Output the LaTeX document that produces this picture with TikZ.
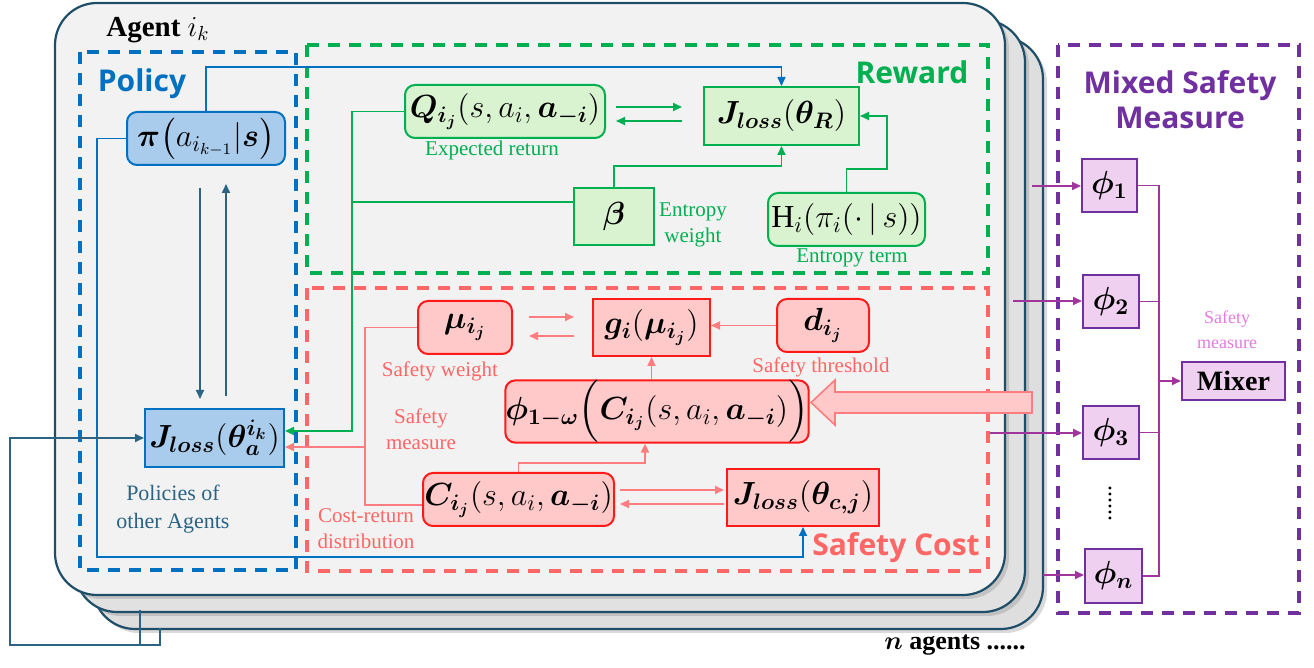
\RequirePackage{fix-cm}
\documentclass[tikz,border=0pt]{standalone}
\usepackage{amsmath,bm}
\usepackage{fontspec}
\setmainfont{Liberation Serif}
\newfontfamily\hdr{Open Sans}
\usetikzlibrary{calc,shadows,arrows.meta}
\definecolor{cblue}{HTML}{0070C0}
\definecolor{cbluef}{HTML}{A9CCEC}
\definecolor{cteal}{HTML}{1F4E68}
\definecolor{ctealb}{HTML}{2A6384}
\definecolor{cgreen}{HTML}{00B050}
\definecolor{cgreenf}{HTML}{D9F2D0}
\definecolor{credd}{HTML}{FF6666}
\definecolor{credl}{HTML}{FF7C80}
\definecolor{credb}{HTML}{FF1A1A}
\definecolor{credf}{HTML}{FFC9C9}
\definecolor{cpurple}{HTML}{7030A0}
\definecolor{cmag}{HTML}{A0359B}
\definecolor{cpurf}{HTML}{F0D0F0}
\definecolor{cpink}{HTML}{E27CE0}
\definecolor{cfront}{HTML}{F2F2F2}
\definecolor{cback}{HTML}{DEDEDE}
\begin{document}
\begin{tikzpicture}[x=0.5pt,y=-0.5pt,
  mfont/.style={font=\fontsize{16}{18}\selectfont},
  sfont/.style={font=\fontsize{10.5}{13}\selectfont, align=center},
  hfont/.style={font=\hdr\bfseries\fontsize{15}{17}\selectfont},
  pbox/.style={draw=cblue, fill=cbluef, line width=1pt, inner sep=0pt, mfont},
  gbox/.style={draw=cgreen, fill=cgreenf, line width=1pt, inner sep=0pt, mfont},
  rbox/.style={draw=credb, fill=credf, line width=1pt, inner sep=0pt, mfont},
  vbox/.style={draw=cpurple, fill=cpurf, line width=1pt, inner sep=0pt, mfont},
  rnd/.style={rounded corners=5pt},
  dashbox/.style={line width=1.6pt, dash pattern=on 6pt off 4.5pt},
  card/.style={draw=cteal, line width=1.1pt, rounded corners=21pt,
     drop shadow={shadow xshift=2pt, shadow yshift=-2pt, opacity=0.3}},
  tip/.style={-{Triangle[length=4.5pt,width=4pt]}},
  bl/.style={draw=cblue, line width=0.8pt},
  gl/.style={draw=cgreen, line width=0.9pt},
  rl/.style={draw=credl, line width=0.9pt},
  tl/.style={draw=ctealb, line width=0.9pt},
  ml/.style={draw=cmag, line width=0.9pt},
]
\useasboundingbox (0,0) rectangle (1314,668);
% stacked cards
\path[card, fill=cback] (93,37) rectangle (1043,629);
\path[card, fill=cback!92!white] (75,20) rectangle (1025,612);
\path[card, fill=cfront] (55,3) rectangle (1005,595);
% dashed frames
\draw[cblue, dashbox] (80,52) rectangle (296,570);
\draw[cgreen, dashbox] (307,45) rectangle (988,273);
\draw[credd, dashbox] (307,288) rectangle (988,571);
\draw[cpurple, dashbox] (1058,45) rectangle (1299,613);
% titles
\node[font=\bfseries\fontsize{14.5}{16}\selectfont] (agent) at (158,30) {Agent $i_k$};
\node[hfont, text=cblue] (tpol) at (142,84) {Policy};
\node[hfont, text=cgreen] (trew) at (912,72) {Reward};
\node[hfont, text=credd] (tsaf) at (896,548) {Safety Cost};
\node[hfont, text=cpurple, align=center, font=\hdr\bfseries\fontsize{15}{17.5}\selectfont] (tmix) at (1180,100) {Mixed Safety\\Measure};
% policy nodes
\node[pbox, rnd, minimum width=79pt, minimum height=26.5pt] (pi) at (206,138.5) {$\bm{\pi}\big(a_{i_{k-1}}|\bm{s}\big)$};
\node[pbox, minimum width=69.5pt, minimum height=29pt] (Ja) at (214.5,438) {$\bm{J}_{\bm{loss}}(\bm{\theta}_{\bm{a}}^{\bm{i_k}})$};
\node[sfont, text=ctealb, font=\fontsize{11}{14}\selectfont] (tpo) at (173,509) {Policies of\\other Agents};
% reward nodes
\node[gbox, rnd, minimum width=100pt, minimum height=26.5pt] (Q) at (505,111.5) {$\bm{Q}_{\bm{i_j}}(s,a_i,\bm{a}_{\bm{-i}})$};
\node[gbox, minimum width=77.5pt, minimum height=29pt] (JR) at (781.5,116) {$\bm{J}_{\bm{loss}}(\bm{\theta}_{\bm{R}})$};
\node[gbox, minimum width=40pt, minimum height=28.5pt] (beta) at (614,216.5) {$\bm{\beta}$};
\node[gbox, rnd, minimum width=78.5pt, minimum height=26.5pt] (H) at (846.5,219.5) {$\mathrm{H}_i(\pi_i(\cdot\,|\,s))$};
\node[sfont, text=cgreen] (tex) at (492,150) {Expected return};
\node[sfont, text=cgreen] (tew) at (693,225) {Entropy\\weight};
\node[sfont, text=cgreen] (tet) at (852,258) {Entropy term};
% safety nodes
\node[rbox, rnd, minimum width=47pt, minimum height=26.5pt] (mu) at (465,327.5) {$\bm{\mu}_{\bm{i_j}}$};
\node[rbox, minimum width=58.5pt, minimum height=28.5pt] (g) at (651.5,327.5) {$\bm{g}_{\bm{i}}(\bm{\mu}_{\bm{i_j}})$};
\node[rbox, rnd, minimum width=46pt, minimum height=26.5pt] (d) at (823,325.5) {$\bm{d}_{\bm{i_j}}$};
\node[rbox, rnd, minimum width=140pt, minimum height=30.5pt] (phiw) at (657,411.5) {$\bm{\phi}_{\bm{1-\omega}}\Big(\bm{C}_{\bm{i_j}}(s,a_i,\bm{a}_{\bm{-i}})\Big)$};
\node[rbox, rnd, minimum width=95.5pt, minimum height=26.5pt] (C) at (518.5,499.5) {$\bm{C}_{\bm{i_j}}(s,a_i,\bm{a}_{\bm{-i}})$};
\node[rbox, minimum width=76pt, minimum height=28.5pt] (Jc) at (803,497.5) {$\bm{J}_{\bm{loss}}(\bm{\theta}_{\bm{c,j}})$};
\node[sfont, text=credd] (tsw) at (440,371) {Safety weight};
\node[sfont, text=credd] (tst) at (821,367) {Safety threshold};
\node[sfont, text=credd] (tsm) at (421,429) {Safety\\measure};
\node[sfont, text=credd] (tcr) at (366,529) {Cost-return\\distribution};
% mixer nodes
\node[vbox, minimum width=27.5pt, minimum height=26.5pt] (phi1) at (1109.5,185.5) {$\bm{\phi}_{\bm{1}}$};
\node[vbox, minimum width=28pt, minimum height=26.5pt] (phi2) at (1111,301.5) {$\bm{\phi}_{\bm{2}}$};
\node[vbox, minimum width=28pt, minimum height=26.5pt] (phi3) at (1111,432.5) {$\bm{\phi}_{\bm{3}}$};
\node[vbox, minimum width=28.5pt, minimum height=27pt] (phin) at (1113.5,576) {$\bm{\phi}_{\bm{n}}$};
\node[vbox, minimum width=51.5pt, minimum height=19pt, font=\bfseries\fontsize{14}{16}\selectfont] (mixer) at (1233.5,381) {Mixer};
\node[rotate=90, font=\fontsize{12}{12}\selectfont] (vdots) at (1110,504) {......};
\node[sfont, text=cpink, font=\fontsize{9}{12.5}\selectfont] (tsmm) at (1227,330) {Safety\\measure};
\node[font=\bfseries\fontsize{13}{15}\selectfont] (nag) at (955,645) {$\bm{n}$ agents ......};
% ---- connectors ----
% blue
\coordinate (btop) at (500,67);
\draw[bl, tip] (pi.north) |- (btop) -| (JR.north);
\coordinate (bbot) at (97,557);
\draw[bl, tip] (pi.west) -| (bbot) -| (Jc.south);
% teal vertical arrows
\draw[tl, tip] ($(pi.south)+(-6,22)$) -- ($(Ja.north)+(-14.5,-9)$);
\draw[tl, tip] ($(Ja.north)+(11.5,-12)$) -- ($(pi.south)+(20,18)$);
% loop from other agents
\coordinate (c3b) at (160,628);
\coordinate (c2b) at (140,610);
\coordinate (lp) at (10,645);
\draw[tl, tip] (c3b) |- (lp) |- (Ja.west);
\draw[tl] (c2b) -- (c2b |- lp);
% green
\coordinate (gb) at (352,431);
\draw[gl, tip] (Q.west) -| (gb) -- (gb -| Ja.east);
\coordinate (bw) at ($(beta.west)+(0,-14.5)$);
\draw[gl] (bw) -- (bw -| gb);
\draw[gl, tip] ($(Q.east)+(10,-4.5)$) -- ($(JR.west)+(-21,-9)$);
\draw[gl, tip] ($(JR.west)+(-21,5)$) -- ($(Q.east)+(10,9.5)$);
\coordinate (gbt) at (700,166);
\draw[gl, tip] (beta.north) |- (gbt) -| (JR.south);
\coordinate (hr) at (887,169);
\draw[gl, tip] (H.north) |- (hr) |- (JR.east);
% red
\draw[rl, tip] ($(mu.east)+(16,-10.5)$) -- ($(g.west)+(-18,-10.5)$);
\draw[rl, tip] ($(g.west)+(-18,8.5)$) -- ($(mu.east)+(16,8.5)$);
\draw[rl, tip] (d.west) -- (d.west -| g.east);
\draw[rl, tip] (phiw.north -| g.south) -- (g.south);
\coordinate (ct) at (600,463);
\draw[rl, tip] (C.north) |- (ct) -| ($(phiw.south)+(-12,0)$);
\draw[rl, tip] ($(C.east)+(5,-9.5)$) -- ($(Jc.west)+(-2,-7.5)$);
\draw[rl, tip] ($(Jc.west)+(-2,6.5)$) -- ($(C.east)+(5,4.5)$);
\coordinate (rb) at (365,505);
\draw[rl] (mu.west) -| (rb) -- (rb -| C.west);
\coordinate (rj) at (365,447);
\draw[rl, tip] (rj) -- (rj -| Ja.east);
% big arrow
\draw[draw=credl, fill=credf, line width=0.8pt] (1032,392) -- (835,392) -- (835,380) -- (811,402.5) -- (835,425) -- (835,413) -- (1032,413) -- cycle;
% purple
\coordinate (in1) at (1032,186);
\coordinate (in2) at (1013,301);
\coordinate (in3) at (990,433);
\coordinate (inn) at (1043,575);
\draw[ml, tip] (in1) -- (in1 -| phi1.west);
\draw[ml, tip] (in2) -- (in2 -| phi2.west);
\draw[ml, tip] (in3) -- (in3 -| phi3.west);
\draw[ml, tip] (inn) -- (inn -| phin.west);
\coordinate (bus) at (1159,381);
\draw[ml] (phi1.east) -- (phi1.east -| bus) -- (phin.east -| bus) -- (phin.east);
\draw[ml] (phi2.east) -- (phi2.east -| bus);
\draw[ml] (phi3.east) -- (phi3.east -| bus);
\draw[ml, tip] (bus) -- (mixer.west);
\end{tikzpicture}
\end{document}
